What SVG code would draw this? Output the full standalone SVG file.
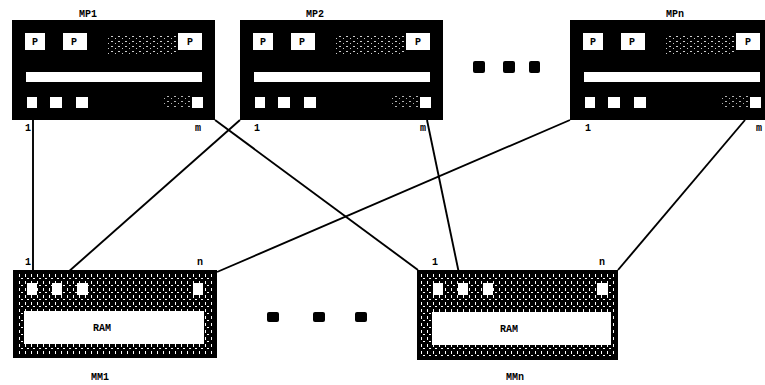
<svg xmlns="http://www.w3.org/2000/svg" width="765" height="385" viewBox="0 0 765 385">
<defs>
<style>
.bg{fill:#fff}
.box{fill:#000}
.w{fill:#fff}
.lbl{font-family:"Liberation Mono",monospace;font-weight:bold;font-size:10px;fill:#000;text-anchor:middle}
.pl{font-family:"Liberation Mono",monospace;font-weight:bold;font-size:10px;fill:#000;text-anchor:middle}
.con line{stroke:#000;stroke-width:1.9}
.noise{fill:url(#speck)}
.mm{fill:url(#hatch)}
</style>
<pattern id="speck" width="7" height="5" patternUnits="userSpaceOnUse">
<rect width="7" height="5" fill="#000"/>
<rect x="1" y="1" width="2" height="1" fill="#fff"/>
<rect x="5" y="3" width="1" height="1" fill="#fff"/>
</pattern>
<pattern id="hatch" width="6" height="7" patternUnits="userSpaceOnUse">
<rect width="6" height="7" fill="#000"/>
<rect x="1" y="1" width="1" height="3" fill="#fff"/>
<rect x="3" y="5" width="2" height="1" fill="#fff"/>
</pattern>
<g id="mpbody">
<rect class="box" x="0" y="0" width="203" height="100"/>
<rect class="noise" x="95" y="14" width="70" height="20" opacity="0.8"/>
<rect class="noise" x="150" y="74" width="30" height="14" opacity="0.7"/>
<rect class="w" x="13" y="13" width="20" height="17"/>
<rect class="w" x="51" y="13" width="24" height="17"/>
<rect class="w" x="166" y="13" width="24" height="17"/>
<text class="pl" x="23" y="25">P</text>
<text class="pl" x="62" y="25">P</text>
<text class="pl" x="178" y="25">P</text>
<rect class="w" x="14" y="52" width="176" height="10"/>
<rect class="w" x="15" y="77" width="10" height="11"/>
<rect class="w" x="38" y="77" width="12" height="11"/>
<rect class="w" x="64" y="77" width="12" height="11"/>
<rect class="w" x="180" y="77" width="11" height="11"/>
</g>
</defs>
<rect class="bg" width="765" height="385"/>
<g class="con" id="connectors">
<line x1="33" y1="120" x2="33" y2="272"/>
<line x1="215" y1="120" x2="418" y2="270"/>
<line x1="240" y1="120" x2="58" y2="281"/>
<line x1="427" y1="120" x2="461" y2="283"/>
<line x1="570" y1="120" x2="217" y2="272"/>
<line x1="745" y1="120" x2="618" y2="270"/>
</g>
<g id="MP1">
<use href="#mpbody" x="12" y="20"/>
<text class="lbl" x="88" y="17">MP1</text>
<text class="lbl" x="28" y="131">1</text>
<text class="lbl" x="198" y="131">m</text>
</g>
<g id="MP2">
<use href="#mpbody" x="240" y="20"/>
<text class="lbl" x="315" y="17">MP2</text>
<text class="lbl" x="257" y="131">1</text>
<text class="lbl" x="423" y="131">m</text>
</g>
<g id="MPn">
<svg x="570" y="20" width="195" height="100" overflow="hidden"><use href="#mpbody"/></svg>
<text class="lbl" x="675" y="17">MPn</text>
<text class="lbl" x="588" y="131">1</text>
<text class="lbl" x="759" y="131">m</text>
</g>
<g id="dots-top">
<rect class="box" x="473" y="61" width="12" height="12" rx="2"/>
<rect class="box" x="503" y="61" width="12" height="12" rx="2"/>
<rect class="box" x="529" y="61" width="11" height="12" rx="2"/>
</g>
<g id="MM1">
<rect class="mm" x="13" y="270" width="204" height="88"/>
<rect class="box" x="13" y="270" width="204" height="4"/>
<rect class="box" x="13" y="354" width="204" height="4"/>
<rect class="box" x="13" y="270" width="4" height="88"/>
<rect class="box" x="213" y="270" width="4" height="88"/>
<rect class="w" x="24" y="311" width="180" height="33"/>
<rect class="w" x="27" y="283" width="10" height="12"/>
<rect class="w" x="52" y="283" width="10" height="12"/>
<rect class="w" x="77" y="283" width="11" height="12"/>
<rect class="w" x="193" y="283" width="10" height="12"/>
<text class="lbl" x="102" y="331">RAM</text>
<text class="lbl" x="28" y="265">1</text>
<text class="lbl" x="200" y="265">n</text>
<text class="lbl" x="100" y="380">MM1</text>
</g>
<g id="MMn">
<rect class="mm" x="417" y="270" width="201" height="90"/>
<rect class="box" x="417" y="270" width="201" height="4"/>
<rect class="box" x="417" y="356" width="201" height="4"/>
<rect class="box" x="417" y="270" width="4" height="90"/>
<rect class="box" x="614" y="270" width="4" height="90"/>
<rect class="w" x="432" y="312" width="179" height="33"/>
<rect class="w" x="433" y="283" width="10" height="12"/>
<rect class="w" x="458" y="283" width="10" height="12"/>
<rect class="w" x="483" y="283" width="10" height="12"/>
<rect class="w" x="597" y="283" width="11" height="12"/>
<text class="lbl" x="509" y="332">RAM</text>
<text class="lbl" x="435" y="265">1</text>
<text class="lbl" x="602" y="265">n</text>
<text class="lbl" x="515" y="380">MMn</text>
</g>
<g id="dots-bottom">
<rect class="box" x="267" y="312" width="12" height="10" rx="2"/>
<rect class="box" x="313" y="312" width="12" height="10" rx="2"/>
<rect class="box" x="355" y="312" width="12" height="10" rx="2"/>
</g>
</svg>
